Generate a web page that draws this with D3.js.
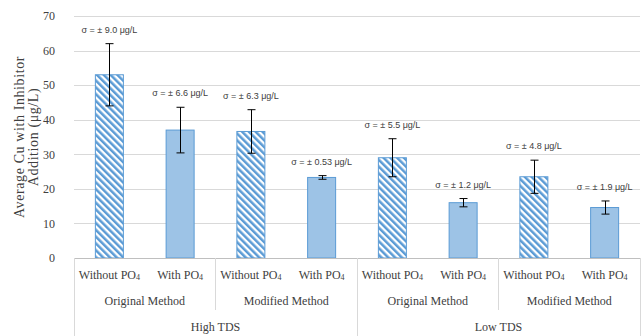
<!DOCTYPE html>
<html>
<head>
<meta charset="utf-8">
<script src="https://cdn.jsdelivr.net/npm/d3@7"></script>
<style>
  html, body { margin: 0; padding: 0; background: #fff; }
  svg { display: block; }
</style>
</head>
<body>
<svg id="chart" width="644" height="336"></svg>
<script>
// ---- data ----
const phosphate = ["Without PO", "With PO", "Without PO", "With PO", "Without PO", "With PO", "Without PO", "With PO"];
const methods = ["Original Method", "Modified Method", "Original Method", "Modified Method"];
const tdsLevels = ["High TDS", "Low TDS"];
const means = [53.0, 37.0, 36.6, 23.3, 29.0, 16.0, 23.5, 14.6];
const sigmas = [9.0, 6.6, 6.3, 0.53, 5.5, 1.2, 4.8, 1.9];
const sigmaText = ["9.0", "6.6", "6.3", "0.53", "5.5", "1.2", "4.8", "1.9"];
const hatched = [true, false, true, false, true, false, true, false];
const yTicks = [0, 10, 20, 30, 40, 50, 60, 70];

(function () {
// ---- layout ----
const svg = d3.select("#chart");
const pLeft = 74, pRight = 640, pTop = 16, pBottom = 258;

const x = d3.scaleBand().domain(d3.range(means.length)).range([pLeft, pRight])
  .paddingInner(0.59).paddingOuter(0.295);
const y = d3.scaleLinear().domain([0, 70]).range([pBottom, pTop]);

const blue = "#5b9bd5";
const lightBlue = "#9dc3e6";

const defs = svg.append("defs");
const pat = defs.append("pattern").attr("id", "hatch")
  .attr("patternUnits", "userSpaceOnUse").attr("width", 4.8).attr("height", 4.8)
  .attr("patternTransform", "rotate(-45)");
pat.append("rect").attr("width", 4.8).attr("height", 4.8).attr("fill", "#fff");
pat.append("rect").attr("width", 2.5).attr("height", 4.8).attr("fill", blue);

// gridlines
svg.append("g").selectAll("line").data(yTicks.filter(d => d > 0)).join("line")
  .attr("x1", pLeft).attr("x2", pRight)
  .attr("y1", d => Math.round(y(d)) + 0.5).attr("y2", d => Math.round(y(d)) + 0.5)
  .attr("stroke", "#d9d9d9").attr("stroke-width", 1);

// y axis tick labels
const yAxis = d3.axisLeft(y).tickValues(yTicks).tickSize(0).tickPadding(19);
const ya = svg.append("g").attr("transform", `translate(${pLeft},0)`).call(yAxis);
ya.select(".domain").remove();
ya.selectAll("text").attr("font-family", "Liberation Serif, Times New Roman, serif")
  .attr("font-size", 12).attr("fill", "#404040");

// y title
const yt = svg.append("text")
  .attr("transform", `translate(24,${(pTop + pBottom) / 2}) rotate(-90)`)
  .attr("text-anchor", "middle")
  .attr("font-family", "Liberation Serif, Times New Roman, serif")
  .attr("font-size", 14).attr("letter-spacing", 0.6).attr("fill", "#404040");
yt.append("tspan").attr("x", 0).attr("dy", 0).text("Average Cu with Inhibitor");
yt.append("tspan").attr("x", 0).attr("dy", 14).text("Addition (μg/L)");

// bars
svg.append("g").selectAll("rect").data(means).join("rect")
  .attr("x", (d, i) => x(i) + 0.5)
  .attr("y", d => y(d))
  .attr("width", x.bandwidth() - 1)
  .attr("height", d => y(0) - y(d))
  .attr("fill", (d, i) => hatched[i] ? "url(#hatch)" : lightBlue)
  .attr("stroke", blue).attr("stroke-width", 1);

// error bars
const eb = svg.append("g").attr("stroke", "#000").attr("stroke-width", 1);
means.forEach((m, i) => {
  const cx = Math.round(x(i) + x.bandwidth() / 2) + 0.5;
  const y1 = y(m + sigmas[i]), y2 = y(m - sigmas[i]);
  eb.append("line").attr("x1", cx).attr("x2", cx).attr("y1", y1).attr("y2", y2);
  eb.append("line").attr("x1", cx - 4).attr("x2", cx + 4).attr("y1", y1).attr("y2", y1);
  eb.append("line").attr("x1", cx - 4).attr("x2", cx + 4).attr("y1", y2).attr("y2", y2);
});

// sigma labels
svg.append("g").selectAll("text").data(means).join("text")
  .attr("x", (d, i) => x(i) + x.bandwidth() / 2)
  .attr("y", (d, i) => y(d + sigmas[i]) - 11)
  .attr("text-anchor", "middle")
  .attr("font-family", "Liberation Sans, Arial, sans-serif")
  .attr("font-size", 9).attr("fill", "#404040")
  .text((d, i) => `σ = ± ${sigmaText[i]} μg/L`);

// x axis baseline
svg.append("line").attr("x1", pLeft).attr("x2", pRight)
  .attr("y1", pBottom + 0.5).attr("y2", pBottom + 0.5)
  .attr("stroke", "#bfbfbf");

const serif = "Liberation Serif, Times New Roman, serif";
const lineColor = "#d9d9d9";
const center = i => x(i) + x.bandwidth() / 2;

// leaf labels
const leaf = svg.append("g").selectAll("text").data(phosphate).join("text")
  .attr("x", (d, i) => center(i)).attr("y", 279)
  .attr("text-anchor", "middle").attr("font-family", serif)
  .attr("font-size", 12).attr("fill", "#404040");
leaf.append("tspan").text(d => d);
leaf.append("tspan").attr("font-size", 8).attr("dy", 1).text("4");

// method labels
const step = x.step();
methods.forEach((m, k) => {
  const cx = (center(2 * k) + center(2 * k + 1)) / 2;
  svg.append("text").attr("x", cx).attr("y", 305).attr("text-anchor", "middle")
    .attr("font-family", serif).attr("font-size", 12).attr("fill", "#404040").text(m);
});
// method boundaries (short)
[2, 6].forEach(i => {
  const bx = Math.round(x(i) - step * x.paddingInner() / 2) + 0.5;
  svg.append("line").attr("x1", bx).attr("x2", bx).attr("y1", pBottom).attr("y2", 310)
    .attr("stroke", lineColor);
});
// TDS labels
tdsLevels.forEach((t, k) => {
  const cx = (center(4 * k) + center(4 * k + 3)) / 2;
  svg.append("text").attr("x", cx).attr("y", 331).attr("text-anchor", "middle")
    .attr("font-family", serif).attr("font-size", 12).attr("fill", "#404040").text(t);
});
// long boundaries
[pLeft, x(4) - step * x.paddingInner() / 2, pRight].forEach(bx => {
  svg.append("line").attr("x1", Math.round(bx) + 0.5).attr("x2", Math.round(bx) + 0.5)
    .attr("y1", pBottom).attr("y2", 336).attr("stroke", lineColor);
});
})();
</script>
</body>
</html>
